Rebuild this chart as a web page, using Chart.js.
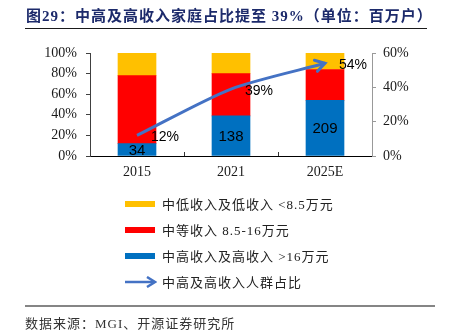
<!DOCTYPE html>
<html>
<head>
<meta charset="utf-8">
<script src="https://cdn.jsdelivr.net/npm/chart.js@4.4.0/dist/chart.umd.min.js"></script>
<style>
  body { margin: 0; background: #fff; }
  #wrap { position: relative; width: 452px; height: 335px; overflow: hidden; background: #fff; }
  #chart { position: absolute; left: 0; top: 0; }
  .title { position: absolute; left: 26px; top: 4px; font: bold 15px "Liberation Serif", "Noto Sans CJK SC"; color: #1c2a6b; white-space: nowrap; letter-spacing: 1px; }
  .title-rule { position: absolute; left: 25px; top: 28px; width: 402px; height: 1px; background: #1a1a1a; }
  .legend-row { position: absolute; left: 125px; height: 20px; line-height: 20px; font: 13px "Liberation Serif", "Noto Sans CJK SC"; color: #222; white-space: nowrap; letter-spacing: 1px; }
  .legend-row .swatch { position: absolute; left: 0; top: 7px; width: 30px; height: 6px; }
  .legend-row svg { position: absolute; left: 0; top: 4px; }
  .legend-row .text { position: absolute; left: 37px; top: 0; }
  .source-rule { position: absolute; left: 25px; top: 305px; width: 410px; height: 2px; background: #858585; }
  .source { position: absolute; left: 25px; top: 313px; font: 13px "Liberation Serif", "Noto Sans CJK SC"; color: #333; white-space: nowrap; letter-spacing: 1px; }
</style>
</head>
<body>
<div id="wrap">
  <canvas id="chart" width="452" height="335"></canvas>
  <div class="title">图29：中高及高收入家庭占比提至 39%（单位：百万户）</div>
  <div class="title-rule"></div>
  <div id="legend"></div>
  <div class="source-rule"></div>
  <div class="source">数据来源：MGI、开源证券研究所</div>
</div>
<script>
const years = ["2015", "2021", "2025E"];

// households by income band, millions
const lowIncome = [62, 71, 62];
const midIncome = [187, 145, 116];
const highIncome = [34, 138, 209];

// share of upper-middle and high income households, %
const highShare = [12, 39, 54];

const seriesNames = [
  "中低收入及低收入 <8.5万元",
  "中等收入 8.5-16万元",
  "中高收入及高收入 >16万元",
  "中高及高收入人群占比"
];
const seriesColors = ["#FFC000", "#FF0000", "#0070C0", "#4472C4"];

const totals = years.map((_, i) => lowIncome[i] + midIncome[i] + highIncome[i]);
const toPct = arr => arr.map((v, i) => v / totals[i] * 100);

// numbers inside the blue bars and % beside the line
const valueLabels = {
  id: "valueLabels",
  afterDatasetsDraw(chart) {
    const ctx = chart.ctx;
    ctx.save();
    ctx.fillStyle = "#000";
    ctx.textBaseline = "middle";
    ctx.font = '15px "Liberation Sans", Arial';
    ctx.textAlign = "center";
    chart.getDatasetMeta(0).data.forEach((bar, i) => {
      ctx.fillText(highIncome[i], bar.x, (bar.y + bar.base) / 2 + 1);
    });
    ctx.font = '14px "Liberation Sans", Arial';
    ctx.textAlign = "left";
    chart.getDatasetMeta(3).data.forEach((pt, i) => {
      ctx.fillText(highShare[i] + "%", pt.x + 14, pt.y + 2);
    });
    ctx.restore();
  }
};

// open arrow head at the end of the share line
const arrowHead = {
  id: "arrowHead",
  afterDatasetsDraw(chart) {
    const pts = chart.getDatasetMeta(3).data;
    const end = pts[pts.length - 1];
    let bx = end.cp1x, by = end.cp1y;
    if (bx === undefined || (bx === end.x && by === end.y)) {
      bx = pts[pts.length - 2].x; by = pts[pts.length - 2].y;
    }
    const ang = Math.atan2(end.y - by, end.x - bx);
    const len = 11, spread = 0.55;
    const ctx = chart.ctx;
    ctx.save();
    ctx.strokeStyle = seriesColors[3];
    ctx.lineWidth = 3;
    ctx.lineCap = "round";
    ctx.beginPath();
    ctx.moveTo(end.x - len * Math.cos(ang - spread), end.y - len * Math.sin(ang - spread));
    ctx.lineTo(end.x, end.y);
    ctx.lineTo(end.x - len * Math.cos(ang + spread), end.y - len * Math.sin(ang + spread));
    ctx.stroke();
    ctx.restore();
  }
};

const tickFont = { family: '"Liberation Serif", "Times New Roman", serif', size: 14 };

new Chart(document.getElementById("chart"), {
  type: "bar",
  data: {
    labels: years,
    datasets: [
      { label: seriesNames[2], data: toPct(highIncome), backgroundColor: seriesColors[2], barThickness: 38, order: 1 },
      { label: seriesNames[1], data: toPct(midIncome), backgroundColor: seriesColors[1], barThickness: 38, order: 1 },
      { label: seriesNames[0], data: toPct(lowIncome), backgroundColor: seriesColors[0], barThickness: 38, order: 1 },
      {
        type: "line", label: seriesNames[3], data: highShare, yAxisID: "y1",
        borderColor: seriesColors[3], borderWidth: 3, pointRadius: 0,
        tension: 0.25, fill: false, order: 0
      }
    ]
  },
  options: {
    responsive: false,
    animation: false,
    layout: { padding: { top: 53, bottom: 149, left: 0, right: 0 } },
    plugins: { legend: { display: false }, tooltip: { enabled: false } },
    scales: {
      x: {
        stacked: true,
        grid: { offset: true, drawOnChartArea: false, drawTicks: true, tickLength: -4, color: "#333" },
        border: { color: "#000", width: 1 },
        ticks: { color: "#1a1a1a", font: tickFont, padding: 12, maxRotation: 0 },
        afterFit: s => { s.height = 30; }
      },
      y: {
        stacked: true, min: 0, max: 100,
        grid: { drawOnChartArea: false, tickLength: 4, color: "#404040" },
        border: { color: "#404040" },
        ticks: { stepSize: 20, color: "#1a1a1a", font: tickFont, padding: 9, callback: v => v + "%" },
        afterFit: s => { s.width = 90; }
      },
      y1: {
        position: "right", min: 0, max: 60,
        grid: { drawOnChartArea: false, tickLength: 4, color: "#999" },
        border: { color: "#999" },
        ticks: { stepSize: 20, color: "#1a1a1a", font: tickFont, padding: 7, callback: v => v + "%" },
        afterFit: s => { s.width = 80; }
      }
    }
  },
  plugins: [valueLabels, arrowHead]
});

// legend beneath the chart
const legend = document.getElementById("legend");
const rowCenters = [204, 230, 256, 281.5];
seriesNames.forEach((name, i) => {
  const row = document.createElement("div");
  row.className = "legend-row";
  row.style.top = (rowCenters[i] - 10) + "px";
  if (i < 3) {
    const sw = document.createElement("div");
    sw.className = "swatch";
    sw.style.background = seriesColors[i];
    row.appendChild(sw);
  } else {
    row.innerHTML = '<svg width="32" height="12" viewBox="0 0 32 12">' +
      '<line x1="0" y1="6" x2="29" y2="6" stroke="' + seriesColors[3] + '" stroke-width="2.5"/>' +
      '<polyline points="22,1 30,6 22,11" fill="none" stroke="' + seriesColors[3] + '" stroke-width="2.5"/></svg>';
  }
  const txt = document.createElement("span");
  txt.className = "text";
  txt.textContent = name;
  row.appendChild(txt);
  legend.appendChild(row);
});
</script>
</body>
</html>
